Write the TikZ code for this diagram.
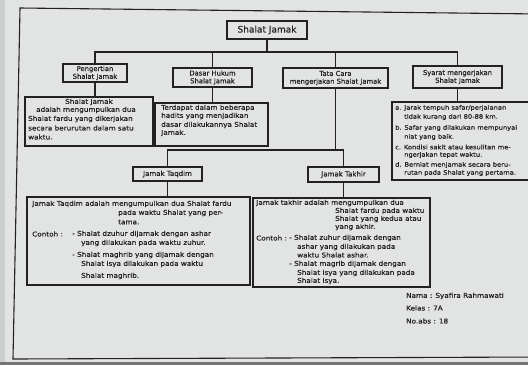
\documentclass[tikz,border=0pt]{standalone}
\usepackage{fontspec}
\setmainfont{DejaVu Sans}[FakeBold=0.4]
\newfontfamily\hand{DejaVu Sans}[FakeStretch=1.1,FakeBold=0.5]
\definecolor{paper}{RGB}{226,227,227}
\definecolor{edge}{RGB}{205,206,206}
\definecolor{inkc}{RGB}{34,34,36}
\begin{document}
\begin{tikzpicture}[x=1pt,y=-1pt,
  ink/.style={draw=inkc, line width=1.1pt},
  box/.style={ink, rectangle, inner sep=1pt, align=center, text=inkc,
    font=\fontsize{6.8}{7.8}\selectfont},
  txt/.style={anchor=west, inner sep=0pt, text=inkc,
    font=\hand\fontsize{6.6}{7.6}\selectfont},
  small/.style={font=\hand\fontsize{6.1}{7}\selectfont},
  link/.style={ink}
]
% sheet and frame
\useasboundingbox (0,0) rectangle (528,365);
\fill[paper] (0,0) rectangle (528,365);
\fill[edge] (0,0) rectangle (5,365);
\fill[black!55] (0,362) rectangle (528,365);
\begin{scope}
\clip (0,0) rectangle (528,365);
\draw[ink] (540,14) -- (20,8) -- (13,359) -- (540,357);

% title
\node[box, minimum width=80pt, minimum height=18pt, font=\fontsize{9}{10}\selectfont] (title) at (267,30) {Shalat Jamak};

% second level
\node[box, minimum width=64pt, minimum height=18pt] (peng) at (95,73) {Pengertian\\Shalat Jamak};
\node[box, minimum width=79pt, minimum height=19pt] (dasar) at (212.5,77.5) {Dasar Hukum\\Shalat Jamak};
\node[box, minimum width=105pt, minimum height=20pt] (tata) at (335.5,78) {Tata Cara\\mengerjakan Shalat Jamak};
\node[box, minimum width=89pt, minimum height=22pt] (syarat) at (457.5,77) {Syarat mengerjakan\\Shalat Jamak};

% detail boxes
\node[box, minimum width=128pt, minimum height=49pt] (box1) at (89,121.5) {};
\node[box, minimum width=113pt, minimum height=43pt] (box2) at (211.5,124.5) {};
\node[box, minimum width=148pt, minimum height=78pt] (box4) at (466,141) {};

% jamak kinds
\node[box, minimum width=69pt, minimum height=14pt, font=\fontsize{7}{8}\selectfont] (taqdim) at (167.5,174) {Jamak Taqdim};
\node[box, minimum width=71pt, minimum height=15pt, font=\fontsize{7}{8}\selectfont] (takhir) at (343.5,174.5) {Jamak Takhir};
\node[box, minimum width=223pt, minimum height=88pt] (btaqdim) at (138.5,241) {};
\node[box, minimum width=177pt, minimum height=89pt] (btakhir) at (341.5,242.5) {};

% connectors
\coordinate (bus1) at (267,52);
\coordinate (bus2) at (333,150);
\draw[link] (title.south) -- (title.south |- bus1);
\draw[link] (peng.north) -- (peng.north |- bus1) -- (syarat.north |- bus1) -- (syarat.north);
\draw[link] (dasar.north) -- (dasar.north |- bus1);
\draw[link] (tata.north) -- (tata.north |- bus1);
\draw[link] (peng.south) -- (peng.south |- box1.north);
\draw[link] (dasar.south) -- (dasar.south |- box2.north);
\draw[link] (syarat.south) -- (syarat.south |- box4.north);
\draw[link] (tata.south) -- (tata.south |- bus2);
\draw[link] (taqdim.north) -- (taqdim.north |- bus2) -- (takhir.north |- bus2) -- (takhir.north);
\draw[link] (taqdim.south) -- (taqdim.south |- btaqdim.north);
\draw[link] (takhir.south) -- (takhir.south |- btakhir.north);

% Pengertian text
\node[txt, anchor=center] (p1) at (89,102) {Shalat Jamak};
\node[txt] (p2) at (36,110) {adalah mengumpulkan dua};
\node[txt] (p3) at (28,119) {Shalat fardu yang dikerjakan};
\node[txt] (p4) at (28,128) {secara berurutan dalam satu};
\node[txt] (p5) at (28,137) {waktu.};

% Dasar hukum text
\node[txt] (d1) at (161,108) {Terdapat dalam beberapa};
\node[txt] (d2) at (161,116) {hadits yang menjadikan};
\node[txt] (d3) at (161,125) {dasar dilakukannya Shalat};
\node[txt] (d4) at (161,133) {Jamak.};

% Syarat text
\node[txt, small] (s1) at (395,108) {a. Jarak tempuh safar/perjalanan};
\node[txt, small] (s2) at (404,117) {tidak kurang dari 80-88 km.};
\node[txt, small] (s3) at (395,128) {b. Safar yang dilakukan mempunyai};
\node[txt, small] (s4) at (404,137) {niat yang baik.};
\node[txt, small] (s5) at (395,147) {c. Kondisi sakit atau kesulitan me-};
\node[txt, small] (s6) at (404,155) {ngerjakan tepat waktu.};
\node[txt, small] (s7) at (395,165) {d. Berniat menjamak secara beru-};
\node[txt, small] (s8) at (404,173) {rutan pada Shalat yang pertama.};

% Jamak Taqdim text
\node[txt] (q1) at (32,204) {Jamak Taqdim adalah mengumpulkan dua Shalat fardu};
\node[txt] (q2) at (118,213) {pada waktu Shalat yang per-};
\node[txt] (q3) at (118,222) {tama.};
\node[txt] (q4) at (32,234) {Contoh :};
\node[txt] (q5) at (72,234) {- Shalat dzuhur dijamak dengan ashar};
\node[txt] (q6) at (81,243) {yang dilakukan pada waktu zuhur.};
\node[txt] (q7) at (72,255) {- Shalat maghrib yang dijamak dengan};
\node[txt] (q8) at (81,264) {Shalat isya dilakukan pada waktu};
\node[txt] (q9) at (81,276) {Shalat maghrib.};

% Jamak Takhir text
\node[txt] (k1) at (256,203) {Jamak takhir adalah mengumpulkan dua};
\node[txt] (k2) at (335,211) {Shalat fardu pada waktu};
\node[txt] (k3) at (335,219) {Shalat yang kedua atau};
\node[txt] (k4) at (335,227) {yang akhir.};
\node[txt] (k5) at (256,238) {Contoh :};
\node[txt] (k6) at (289,238) {- Shalat zuhur dijamak dengan};
\node[txt] (k7) at (297,247) {ashar yang dilakukan pada};
\node[txt] (k8) at (297,255) {waktu Shalat ashar.};
\node[txt] (k9) at (289,264) {- Shalat magrib dijamak dengan};
\node[txt] (k10) at (297,273) {Shalat isya yang dilakukan pada};
\node[txt] (k11) at (297,281) {Shalat isya.};

% author
\node[txt] (n1) at (406,296) {Nama : Syafira Rahmawati};
\node[txt] (n2) at (406,308) {Kelas : 7A};
\node[txt] (n3) at (406,321) {No.abs : 18};
\end{scope}
\end{tikzpicture}
\end{document}
